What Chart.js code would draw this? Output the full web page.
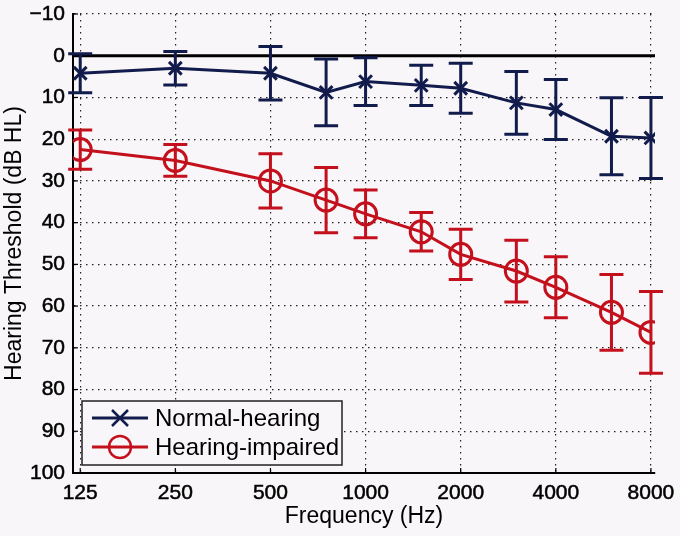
<!DOCTYPE html>
<html>
<head>
<meta charset="utf-8">
<script src="https://cdn.jsdelivr.net/npm/chart.js@4"></script>
<style>
  html, body { margin: 0; padding: 0; background: #f8f6f8; }
  #wrap { width: 680px; height: 536px; }
</style>
</head>
<body>
<div id="wrap"><canvas id="audiogram" width="680" height="536"></canvas></div>
<script>
// frequencies (Hz) and tick labels
var freqs = [125, 250, 500, 750, 1000, 1500, 2000, 3000, 4000, 6000, 8000];
var xTicks = [125, 250, 500, 1000, 2000, 4000, 8000];
var yTicks = [-10, 0, 10, 20, 30, 40, 50, 60, 70, 80, 90, 100];

// mean thresholds (dB HL) and error bar half-widths
var normalMean = [4.2, 3.0, 4.2, 8.8, 6.2, 7.1, 7.8, 11.3, 12.9, 19.3, 19.7];
var normalErr  = [4.7, 4.0, 6.4, 8.0, 5.7, 4.8, 6.0, 7.5, 7.2, 9.2, 9.7];
var impairedMean = [22.5, 25.1, 30.0, 34.6, 37.9, 42.2, 47.6, 51.6, 55.5, 61.5, 66.3];
var impairedErr  = [4.7, 3.8, 6.5, 7.8, 5.7, 4.6, 6.0, 7.4, 7.3, 9.1, 9.8];

var navy = '#121c4c';
var red = '#c4101c';
var font = '"Liberation Sans", Arial, sans-serif';

function toPoints(means) {
    return freqs.map(function(f, i) { return { x: f, y: means[i] }; });
}

var errors = [normalErr, impairedErr];

// zero reference line, inward tick marks, error bars, legend box
var extras = {
    id: 'extras',
    beforeDraw: function(chart) {
        var ctx = chart.ctx;
        ctx.save();
        ctx.fillStyle = '#f8f6f8';
        ctx.fillRect(0, 0, chart.width, chart.height);
        ctx.restore();
    },
    beforeDatasetsDraw: function(chart) {
        var ctx = chart.ctx, a = chart.chartArea;
        var x = chart.scales.x, y = chart.scales.y;
        ctx.save();
        ctx.strokeStyle = '#000';
        ctx.lineWidth = 1.2;
        xTicks.forEach(function(t) {
            var px = x.getPixelForValue(t);
            ctx.beginPath(); ctx.moveTo(px, a.bottom); ctx.lineTo(px, a.bottom - 5); ctx.stroke();
        });
        yTicks.forEach(function(t) {
            var py = y.getPixelForValue(t);
            ctx.beginPath(); ctx.moveTo(a.left, py); ctx.lineTo(a.left + 5, py); ctx.stroke();
        });
        var y0 = y.getPixelForValue(0);
        ctx.lineWidth = 3;
        ctx.beginPath(); ctx.moveTo(a.left, y0); ctx.lineTo(a.right, y0); ctx.stroke();
        ctx.restore();
    },
    afterDatasetsDraw: function(chart) {
        var ctx = chart.ctx;
        var x = chart.scales.x, y = chart.scales.y;
        ctx.save();
        ctx.lineWidth = 3;
        chart.data.datasets.forEach(function(ds, d) {
            ctx.strokeStyle = ds.borderColor;
            ds.data.forEach(function(p, i) {
                var px = x.getPixelForValue(p.x);
                var top = y.getPixelForValue(p.y - errors[d][i]);
                var bot = y.getPixelForValue(p.y + errors[d][i]);
                ctx.beginPath();
                ctx.moveTo(px, top); ctx.lineTo(px, bot);
                ctx.moveTo(px - 12, top); ctx.lineTo(px + 12, top);
                ctx.moveTo(px - 12, bot); ctx.lineTo(px + 12, bot);
                ctx.stroke();
            });
        });
        ctx.restore();
    },
    afterDraw: function(chart) {
        var ctx = chart.ctx, a = chart.chartArea;
        var bx = a.left + 9, by = 401, bw = 260, bh = 64;
        ctx.save();
        ctx.fillStyle = '#f8f6f8';
        ctx.fillRect(bx, by, bw, bh);
        ctx.strokeStyle = '#222';
        ctx.lineWidth = 1.5;
        ctx.strokeRect(bx, by, bw, bh);
        chart.data.datasets.forEach(function(ds, d) {
            var ly = by + 17 + d * 29;
            ctx.strokeStyle = ds.borderColor;
            ctx.lineWidth = 3;
            ctx.beginPath(); ctx.moveTo(bx + 10, ly); ctx.lineTo(bx + 66, ly); ctx.stroke();
            var cx = bx + 38;
            ctx.lineWidth = 2.5;
            ctx.beginPath();
            if (d === 0) {
                ctx.moveTo(cx - 8, ly - 8); ctx.lineTo(cx + 8, ly + 8);
                ctx.moveTo(cx - 8, ly + 8); ctx.lineTo(cx + 8, ly - 8);
            } else {
                ctx.arc(cx, ly, 11, 0, Math.PI * 2);
            }
            ctx.stroke();
            ctx.fillStyle = '#000';
            ctx.font = '24px ' + font;
            ctx.textBaseline = 'middle';
            ctx.fillText(ds.label, bx + 73, ly + 1);
        });
        ctx.restore();
    }
};

var ctx = document.getElementById('audiogram').getContext('2d');
var audiogram = new Chart(ctx, {
    type: 'line',
    data: {
        datasets: [{
            label: 'Normal-hearing',
            data: toPoints(normalMean),
            borderColor: navy,
            backgroundColor: navy,
            borderWidth: 3,
            pointStyle: 'crossRot',
            pointRadius: 9,
            pointBorderWidth: 3,
            tension: 0
        }, {
            label: 'Hearing-impaired',
            data: toPoints(impairedMean),
            borderColor: red,
            backgroundColor: 'rgba(0,0,0,0)',
            borderWidth: 3,
            pointStyle: 'circle',
            pointRadius: 11,
            pointBorderWidth: 3,
            tension: 0
        }]
    },
    options: {
        responsive: false,
        animation: false,
        layout: { padding: { top: 12, right: 25, left: 0, bottom: 0 } },
        plugins: {
            legend: { display: false },
            tooltip: { enabled: false }
        },
        scales: {
            x: {
                type: 'logarithmic',
                min: 118.6,
                max: 8240,
                afterBuildTicks: function(scale) {
                    scale.ticks = xTicks.map(function(v) { return { value: v }; });
                },
                afterFit: function(scale) {
                    scale.height = 63;
                    scale.paddingLeft = 0;
                    scale.paddingRight = 0;
                },
                ticks: {
                    autoSkip: false,
                    maxRotation: 0,
                    padding: 8,
                    color: '#000',
                    textStrokeColor: '#000',
                    textStrokeWidth: 0.5,
                    font: { family: font, size: 21 },
                    callback: function(v) { return String(v); }
                },
                grid: { color: '#222', lineWidth: 1.2, drawTicks: false },
                border: { display: true, color: '#000', width: 2, dash: [1.5, 4.5] },
                title: {
                    display: true,
                    text: 'Frequency (Hz)',
                    color: '#000',
                    font: { family: font, size: 23 },
                    padding: { top: 0, bottom: 6 }
                }
            },
            y: {
                type: 'linear',
                reverse: true,
                min: -10,
                max: 100,
                afterBuildTicks: function(scale) {
                    scale.ticks = yTicks.map(function(v) { return { value: v }; });
                },
                afterFit: function(scale) {
                    scale.width = 73;
                    scale.paddingTop = 0;
                    scale.paddingBottom = 0;
                },
                ticks: {
                    padding: 8,
                    color: '#000',
                    textStrokeColor: '#000',
                    textStrokeWidth: 0.5,
                    font: { family: font, size: 21 },
                    callback: function(v) { return v < 0 ? '\u2212' + Math.abs(v) : String(v); }
                },
                grid: { color: '#222', lineWidth: 1.2, drawTicks: false },
                border: { display: true, color: '#000', width: 2, dash: [1.5, 4.5] },
                title: {
                    display: true,
                    text: 'Hearing Threshold (dB HL)',
                    color: '#000',
                    font: { family: font, size: 23 },
                    padding: { top: 1, bottom: 0 }
                }
            }
        }
    },
    plugins: [extras]
});
</script>
</body>
</html>
